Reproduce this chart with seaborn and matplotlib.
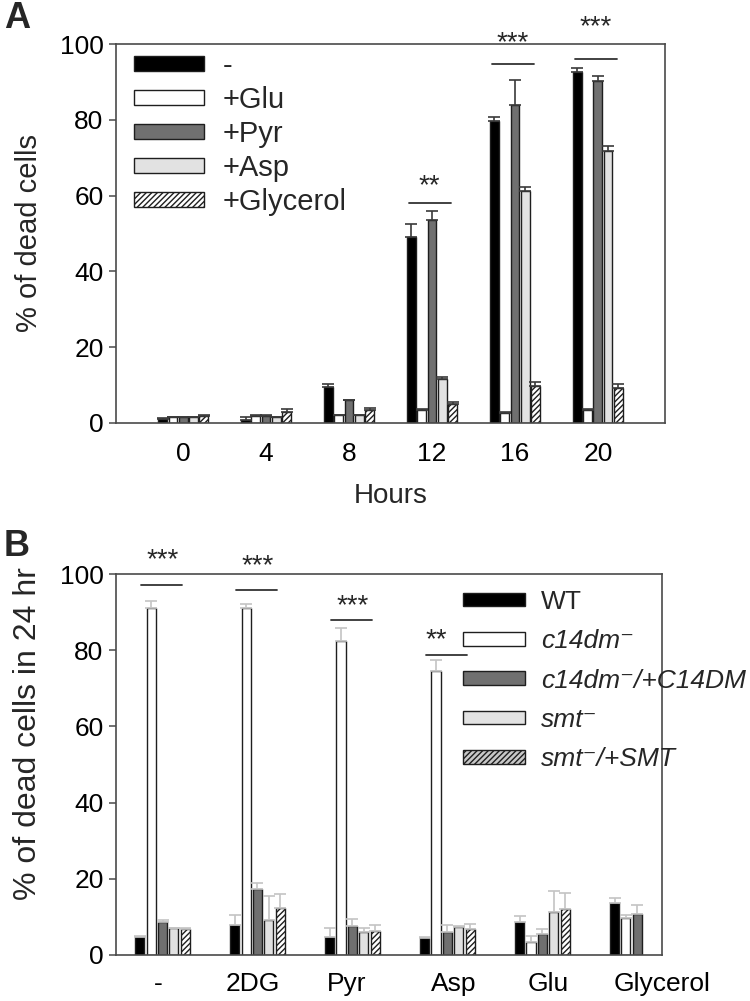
import numpy as np
import pandas as pd
import matplotlib
matplotlib.use("Agg")
import matplotlib.pyplot as plt
import seaborn as sns
from matplotlib.patches import Patch
from matplotlib.container import BarContainer

sns.set_theme(style="white")
plt.rcParams["font.family"] = ["Liberation Sans", "DejaVu Sans"]

# ---------------- Panel A data ----------------
hours = ["0", "4", "8", "12", "16", "20"]
conds_a = ["-", "+Glu", "+Pyr", "+Asp", "+Glycerol"]
a_none = [1.0, 0.9, 9.6, 49.2, 79.6, 92.5]
a_glu = [1.5, 1.9, 2.0, 3.3, 2.7, 3.5]
a_pyr = [1.5, 1.9, 6.0, 53.5, 84.0, 90.3]
a_asp = [1.5, 1.5, 2.0, 11.5, 61.3, 71.7]
a_gly = [1.8, 2.8, 3.5, 4.9, 9.8, 9.3]
a_none_err = [0.4, 0.6, 0.7, 3.4, 1.1, 1.1]
a_glu_err = [0.2, 0.3, 0.2, 0.3, 0.2, 0.2]
a_pyr_err = [0.2, 0.3, 0.2, 2.5, 6.4, 1.3]
a_asp_err = [0.2, 0.2, 0.2, 0.6, 1.0, 1.3]
a_gly_err = [0.3, 0.8, 0.5, 0.6, 1.0, 0.9]
sig_a_groups = ["12", "16", "20"]
sig_a_text = ["**", "***", "***"]
sig_a_line = [58.0, 94.7, 96.0]
sig_a_text_y = [62.5, 100.3, 104.3]

# ---------------- Panel B data ----------------
groups_b = ["-", "2DG", "Pyr", "Asp", "Glu", "Glycerol"]
strains = ["WT", "c14dm\u207b", "c14dm\u207b/+C14DM", "smt\u207b", "smt\u207b/+SMT"]
b_wt = [4.6, 7.9, 4.8, 4.5, 8.7, 13.7]
b_c14 = [91.2, 91.2, 82.5, 74.6, 3.3, 9.8]
b_c14r = [8.7, 17.3, 7.6, 6.1, 5.5, 10.8]
b_smt = [7.0, 9.3, 6.0, 7.4, 11.4, np.nan]
b_smtr = [6.8, 12.4, 6.3, 6.7, 12.0, np.nan]
b_wt_err = [0.3, 2.6, 2.4, 0.3, 1.6, 1.2]
b_c14_err = [1.8, 0.8, 3.2, 2.7, 1.7, 0.7]
b_c14r_err = [0.5, 1.7, 1.8, 1.9, 1.3, 2.3]
b_smt_err = [0.2, 6.3, 1.1, 0.3, 5.5, np.nan]
b_smtr_err = [0.35, 3.5, 1.6, 1.4, 4.3, np.nan]
sig_b_groups = ["-", "2DG", "Pyr", "Asp"]
sig_b_text = ["***", "***", "***", "**"]
sig_b_line = [97.1, 95.7, 88.0, 78.8]
sig_b_text_y = [103.5, 102.0, 91.5, 82.5]

fill_colors = ["#000000", "#ffffff", "#707070", "#e2e2e2", "#ffffff"]
edge = "#1e1e1e"
spine_col = "#4a4a4a"

fig = plt.figure(figsize=(7.5, 10.01), dpi=100)
axA = fig.add_axes([116 / 750, 1 - 423 / 1001, 549 / 750, 379 / 1001])
axB = fig.add_axes([116 / 750, 1 - 955 / 1001, 546 / 750, 381 / 1001])


def draw_panel(ax, cats, hue_names, vals, errs, width, gap, errcol, hatch):
    rows = []
    for h, v in zip(hue_names, vals):
        for c, y in zip(cats, v):
            rows.append({"cat": c, "hue": h, "val": y})
    df = pd.DataFrame(rows).dropna()
    sns.barplot(data=df, x="cat", y="val", hue="hue", order=cats, hue_order=hue_names,
                palette=fill_colors, width=width, gap=gap, edgecolor=edge, linewidth=1.0,
                errorbar=None, legend=False, ax=ax, saturation=1)
    bar_conts = [c for c in ax.containers if isinstance(c, BarContainer)]
    for i, cont in enumerate(bar_conts):
        for bar in list(cont):
            h = bar.get_height()
            if np.isnan(h):
                continue
            xc = bar.get_x() + bar.get_width() / 2
            k = int(round(xc))
            e = errs[i][k]
            if i == len(hue_names) - 1:
                bar.set_hatch(hatch)
                bar.set_edgecolor(edge)
            if np.isnan(e):
                continue
            ax.errorbar([xc], [h], yerr=[[0], [e]], fmt="none", ecolor=errcol,
                        elinewidth=1.2, capsize=4, capthick=1.2, zorder=1)


draw_panel(axA, hours, conds_a, [a_none, a_glu, a_pyr, a_asp, a_gly],
           [a_none_err, a_glu_err, a_pyr_err, a_asp_err, a_gly_err],
           0.62, 0.15, "#3a3a3a", "//////")
draw_panel(axB, groups_b, strains, [b_wt, b_c14, b_c14r, b_smt, b_smtr],
           [b_wt_err, b_c14_err, b_c14r_err, b_smt_err, b_smtr_err],
           0.6, 0.2, "#c4c4c4", "//////")

for ax in (axA, axB):
    ax.set_ylim(0, 100)
    ax.set_yticks(range(0, 101, 20))
    for s in ax.spines.values():
        s.set_visible(True)
        s.set_color(spine_col)
        s.set_linewidth(1.2)
    ax.tick_params(axis="y", direction="out", length=5, width=1.1, color=spine_col,
                   left=True, labelsize=19, pad=4, labelcolor="black")
    ax.tick_params(axis="x", length=0, labelsize=19, labelcolor="black")
    ax.set_xlabel("")
    ax.grid(False)

axA.set_xlim(-0.81, 5.81)
axA.tick_params(axis="x", pad=14)
axA.set_xlabel("Hours", fontsize=20, labelpad=12)
axA.set_ylabel("% of dead cells", fontsize=21)
axA.yaxis.set_label_coords(-0.133, 0.5)

axB.set_xlim(-0.49, 5.25)
b_label_shift = [-0.05, -0.05, -0.06, 0.07, 0.06, 0.26]
axB.set_xticks(np.arange(len(groups_b)) + np.array(b_label_shift))
axB.set_xticklabels(groups_b)
axB.tick_params(axis="x", pad=12)
axB.set_ylabel("% of dead cells in 24 hr", fontsize=23)
axB.yaxis.set_label_coords(-0.134, 0.58)

# significance marks
for g, t, ly, ty in zip(sig_a_groups, sig_a_text, sig_a_line, sig_a_text_y):
    c = hours.index(g)
    axA.plot([c - 0.28, c + 0.23], [ly, ly], color="#333333", lw=1.3, clip_on=False)
    axA.text(c - 0.03, ty, t, ha="center", va="center", fontsize=20, clip_on=False)
for g, t, ly, ty in zip(sig_b_groups, sig_b_text, sig_b_line, sig_b_text_y):
    c = groups_b.index(g)
    axB.plot([c - 0.23, c + 0.21], [ly, ly], color="#333333", lw=1.3, clip_on=False)
    dx = -0.12 if t == "**" else 0.0
    axB.text(c + dx, ty, t, ha="center", va="center", fontsize=20, clip_on=False)

# legends
hatches = [None, None, None, None, "//////"]
hA = [Patch(facecolor=fc, edgecolor=edge, hatch=hh, label=lab)
      for fc, hh, lab in zip(fill_colors, hatches, conds_a)]
axA.legend(handles=hA, loc="upper left", bbox_to_anchor=(0.033, 0.978), frameon=False,
           fontsize=21, handlelength=2.4, handleheight=0.42, labelspacing=0.2,
           handletextpad=0.65, borderpad=0, borderaxespad=0)
hB = [Patch(facecolor=fc, edgecolor=edge, hatch=hh, label=lab)
      for fc, hh, lab in zip(["#000000", "#ffffff", "#707070", "#e2e2e2", "#c8c8c8"],
                             hatches, strains)]
legB = axB.legend(handles=hB, loc="upper left", bbox_to_anchor=(0.636, 0.958), frameon=False,
                  fontsize=19, handlelength=2.35, handleheight=0.42, labelspacing=0.58,
                  handletextpad=0.6, borderpad=0, borderaxespad=0)
for txt in legB.get_texts()[1:]:
    txt.set_fontstyle("italic")

fig.text(17 / 750, 1 - 19 / 1001, "A", fontsize=26, fontweight="bold", ha="center", va="center")
fig.text(17 / 750, 1 - 546 / 1001, "B", fontsize=26, fontweight="bold", ha="center", va="center")

fig.savefig("out.png", dpi=100)
